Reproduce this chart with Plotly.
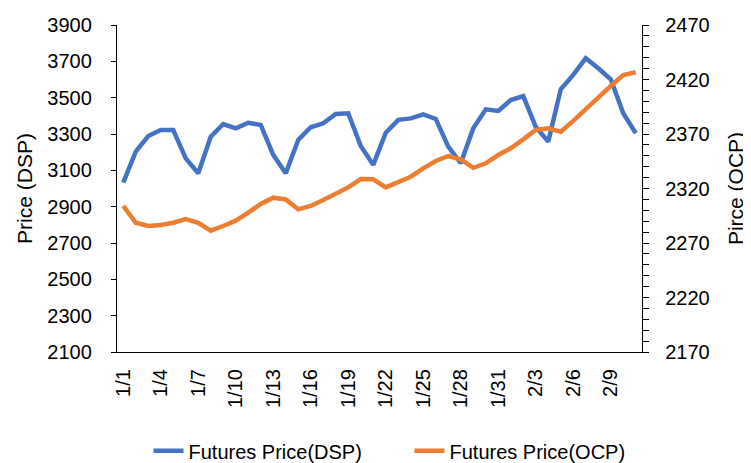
import plotly.graph_objects as go

dates = ["1/1", "1/2", "1/3", "1/4", "1/5", "1/6", "1/7", "1/8", "1/9", "1/10",
         "1/11", "1/12", "1/13", "1/14", "1/15", "1/16", "1/17", "1/18", "1/19", "1/20",
         "1/21", "1/22", "1/23", "1/24", "1/25", "1/26", "1/27", "1/28", "1/29", "1/30",
         "1/31", "2/1", "2/2", "2/3", "2/4", "2/5", "2/6", "2/7", "2/8", "2/9",
         "2/10", "2/11"]

dsp = [3032, 3203, 3289, 3322, 3322, 3166, 3084, 3285, 3355, 3331,
       3362, 3350, 3185, 3084, 3267, 3337, 3359, 3410, 3414, 3234,
       3130, 3307, 3378, 3386, 3408, 3383, 3230, 3139, 3331, 3436,
       3427, 3487, 3509, 3340, 3258, 3546, 3625, 3717, 3662, 3601,
       3414, 3304]

ocp = [2304, 2288.6, 2285.6, 2286.5, 2288.6, 2292, 2288.6, 2281.3, 2285.6, 2290.5,
       2297.8, 2305.8, 2311.6, 2310, 2300.9, 2304, 2309.5, 2315, 2321, 2328.7,
       2328.4, 2321, 2326, 2330.8, 2338.5, 2345.2, 2349.8, 2346.8, 2339, 2343.1,
       2350.7, 2356.9, 2365.1, 2373.7, 2375.2, 2372.1, 2382, 2392, 2403.3, 2414,
       2424.1, 2426.6]

tick_labels = dates[::3]

font_family = "Liberation Sans, Arial, sans-serif"

fig = go.Figure()
fig.add_trace(go.Scatter(x=dates, y=dsp, mode="lines", name="Futures Price(DSP)",
                         line=dict(color="#4472C4", width=4.5), yaxis="y"))
fig.add_trace(go.Scatter(x=dates, y=ocp, mode="lines", name="Futures Price(OCP)",
                         line=dict(color="#ED7D31", width=4.5), yaxis="y2"))

# the page body adds an 8px offset, so the figure is 8px smaller than the window
fig.update_layout(
    width=743, height=455,
    margin=dict(l=109, r=109, t=17, b=111, autoexpand=False),
    paper_bgcolor="white", plot_bgcolor="white",
    font=dict(family=font_family, size=20, color="black"),
    showlegend=True,
    legend=dict(orientation="h", x=0.06, xanchor="left", y=-0.302, yanchor="middle",
                font=dict(size=20), traceorder="normal",
                entrywidth=216, entrywidthmode="pixels",
                bgcolor="rgba(0,0,0,0)"),
    xaxis=dict(type="category", range=[-0.5, len(dates) - 0.5],
               tickmode="array", tickvals=tick_labels, ticktext=tick_labels,
               tickangle=-90, showline=True, linecolor="black", linewidth=1.3,
               ticks="", showgrid=False, zeroline=False, automargin=False,
               ticklabelstandoff=8, tickfont=dict(size=20)),
    yaxis=dict(range=[2100, 3900], dtick=200, tick0=2100,
               showline=True, linecolor="black", linewidth=1.3,
               ticks="outside", ticklen=5, tickcolor="black",
               showgrid=False, zeroline=False, automargin=False,
               ticklabelstandoff=15,
               title=dict(text="Price (DSP)", font=dict(size=21), standoff=8),
               tickfont=dict(size=20)),
    yaxis2=dict(range=[2170, 2470], dtick=50, tick0=2170, overlaying="y", side="right",
                showline=True, linecolor="black", linewidth=1.3,
                ticks="outside", ticklen=6, tickcolor="black",
                minor=dict(dtick=10, ticks="outside", ticklen=6, tickcolor="black"),
                showgrid=False, zeroline=False, automargin=False,
                ticklabelstandoff=12,
                title=dict(text="Pirce (OCP)", font=dict(size=21), standoff=19),
                tickfont=dict(size=20)),
)

fig.write_html("out.html")
